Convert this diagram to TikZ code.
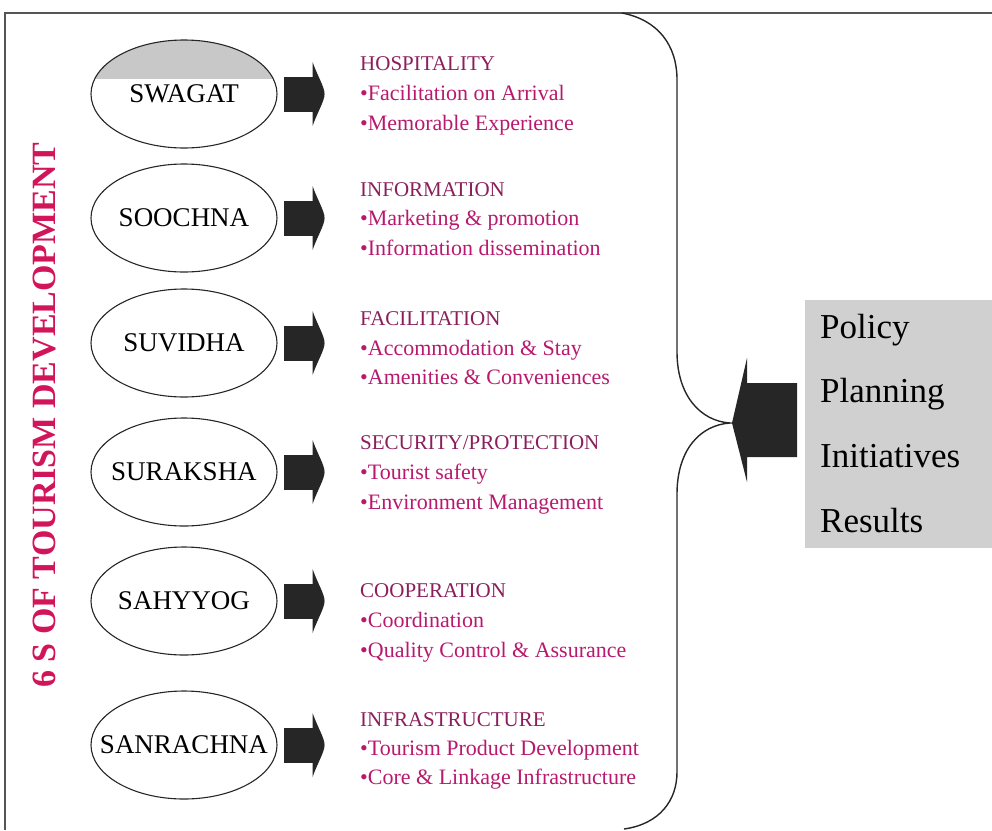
\documentclass[tikz,border=0pt]{standalone}
\usepackage{fontspec}
\setmainfont{Liberation Serif}
\usetikzlibrary{shapes.geometric}
\definecolor{headc}{HTML}{8A1F5C}
\definecolor{itemc}{HTML}{B8196E}
\definecolor{titlec}{HTML}{D2145A}
\definecolor{boxgrey}{HTML}{D0D0D0}
\definecolor{capgrey}{HTML}{C8C8C8}
\definecolor{framec}{HTML}{555555}
\definecolor{arrowc}{HTML}{262626}
\begin{document}
\begin{tikzpicture}[x=1pt,y=-1pt,
  oval/.style={ellipse, draw=black!85, line width=1.1pt, minimum width=186pt,
    minimum height=108pt, inner sep=-40pt, font=\fontsize{27}{27}\selectfont},
  head/.style={anchor=base west, text=headc, inner sep=0pt,
    font=\fontsize{21}{21}\selectfont},
  item/.style={anchor=base west, text=itemc, inner sep=0pt,
    font=\fontsize{22}{22}\selectfont},
  word/.style={anchor=base west, inner sep=0pt, font=\fontsize{35}{35}\selectfont},
  sarrow/.pic={
    \fill[arrowc] (0,-17) rectangle (31,18);
    \fill[arrowc] (29,-32) .. controls (34,-18) and (41,-7) .. (41,0)
      .. controls (41,7) and (34,18) .. (29,32) -- cycle;
  }]
\useasboundingbox (0,0) rectangle (992,830);

% outer frame (left and top edges only)
\draw[framec, line width=1.5pt] (5,830) -- (5,13) -- (992,13);

% vertical title
\node[rotate=90, anchor=base, text=titlec, inner sep=0pt,
  font=\fontsize{34}{34}\selectfont\bfseries] (title) at (55,415)
  {6 S OF TOURISM DEVELOPMENT};

% grey cap of the first oval
\begin{scope}
  \clip (184,94) ellipse [x radius=93, y radius=54];
  \fill[capgrey] (80,30) rectangle (290,79);
\end{scope}

% the six S ovals
\node[oval] (swagat)    at (184,94)  {SWAGAT};
\node[oval] (soochna)   at (184,218) {SOOCHNA};
\node[oval] (suvidha)   at (184,343) {SUVIDHA};
\node[oval] (suraksha)  at (184,472) {SURAKSHA};
\node[oval] (sahyyog)   at (184,601) {SAHYYOG};
\node[oval] (sanrachna) at (184,745) {SANRACHNA};

% block arrows beside the ovals
\foreach \n in {swagat,soochna,suvidha,suraksha,sahyyog,sanrachna}
  \pic at ([xshift=6pt]\n.east) {sarrow};

% descriptions
\node[head] (h1) at (360,70)  {HOSPITALITY};
\node[item] (h1a) at (360,100) {\textbullet Facilitation on Arrival};
\node[item] (h1b) at (360,130) {\textbullet Memorable Experience};

\node[head] (h2) at (360,196) {INFORMATION};
\node[item] (h2a) at (360,225) {\textbullet Marketing \& promotion};
\node[item] (h2b) at (360,255) {\textbullet Information dissemination};

\node[head] (h3) at (360,325) {FACILITATION};
\node[item] (h3a) at (360,355) {\textbullet Accommodation \& Stay};
\node[item] (h3b) at (360,384) {\textbullet Amenities \& Conveniences};

\node[head] (h4) at (360,449) {SECURITY/PROTECTION};
\node[item] (h4a) at (360,479) {\textbullet Tourist safety};
\node[item] (h4b) at (360,509) {\textbullet Environment Management};

\node[head] (h5) at (360,597) {COOPERATION};
\node[item] (h5a) at (360,627) {\textbullet Coordination};
\node[item] (h5b) at (360,657) {\textbullet Quality Control \& Assurance};

\node[head] (h6) at (360,726) {INFRASTRUCTURE};
\node[item] (h6a) at (360,755) {\textbullet Tourism Product Development};
\node[item] (h6b) at (360,784) {\textbullet Core \& Linkage Infrastructure};

% brace gathering the six S
\coordinate (tip) at (730,423);
\draw[black!85, line width=1.4pt]
  (622,13) .. controls (658,20) and (677,45) .. (677,80)
  -- (677,352) .. controls (677,395) and (700,421) .. (tip)
  .. controls (700,425) and (677,450) .. (677,494)
  -- (677,772) .. controls (677,800) and (660,824) .. (624,829);

% grey box with the outcomes
\node[fill=boxgrey, anchor=north west, minimum width=187pt, minimum height=248pt,
  inner sep=0pt] (box) at (805,300) {};
\node[word] (w1) at (820,338) {Policy};
\node[word] (w2) at (820,402) {Planning};
\node[word] (w3) at (820,467) {Initiatives};
\node[word] (w4) at (820,532) {Results};

% big arrow from the box into the brace
\fill[arrowc] (797,383) -- (747,383) -- (747,358) -- ([xshift=2pt]tip)
  -- (747,482) -- (747,457) -- (797,457) -- cycle;
\end{tikzpicture}
\end{document}
